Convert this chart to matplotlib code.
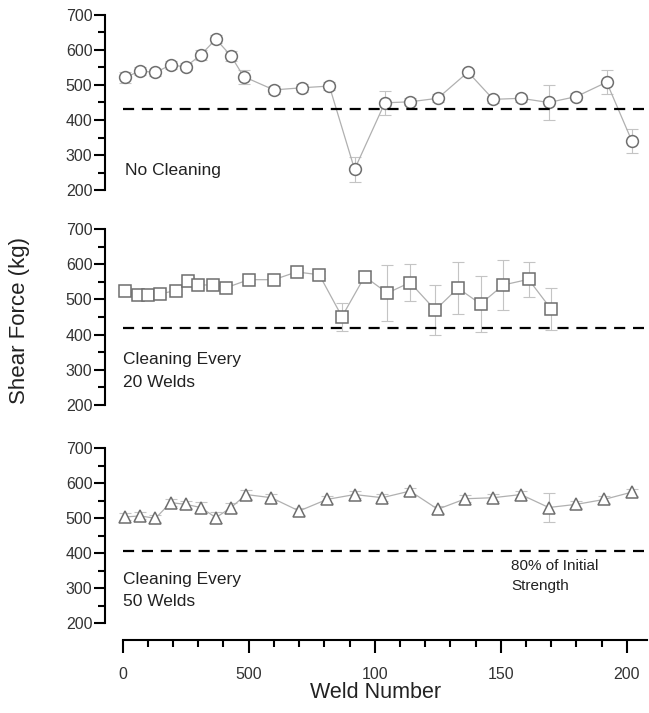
import matplotlib
matplotlib.use('Agg')
import matplotlib.pyplot as plt
from matplotlib.ticker import MultipleLocator

plt.rcParams['font.family'] = ['Liberation Sans', 'DejaVu Sans']

# No Cleaning
weld1 = [1, 7, 13, 19, 25, 31, 37, 43, 48, 60, 71, 82, 92, 104, 114, 125, 137, 147, 158, 169, 180, 192, 202]
force1 = [522, 540, 536, 557, 552, 586, 631, 583, 524, 486, 492, 497, 259, 449, 452, 462, 537, 459, 462, 450, 467, 508, 340]
err1 = [15, 12, 10, 12, 10, 15, 12, 15, 20, 12, 12, 12, 35, 35, 10, 12, 10, 10, 10, 50, 10, 35, 35]
limit1 = 430

# Cleaning every 20 welds
weld2 = [1, 6, 10, 15, 21, 26, 30, 36, 41, 50, 60, 69, 78, 87, 96, 105, 114, 124, 133, 142, 151, 161, 170]
force2 = [524, 513, 513, 516, 525, 551, 541, 541, 533, 556, 556, 578, 570, 451, 565, 518, 548, 470, 532, 487, 541, 557, 472]
err2 = [10, 10, 10, 10, 10, 12, 10, 10, 10, 10, 10, 10, 10, 40, 15, 80, 52, 72, 73, 80, 71, 50, 60]
limit2 = 420

# Cleaning every 50 welds
weld3 = [1, 7, 13, 19, 25, 31, 37, 43, 49, 59, 70, 81, 92, 103, 114, 125, 136, 147, 158, 169, 180, 191, 202]
force3 = [503, 506, 499, 544, 539, 530, 501, 530, 567, 558, 520, 553, 567, 558, 577, 525, 555, 558, 567, 530, 539, 553, 574]
err3 = [10, 10, 10, 10, 10, 15, 15, 12, 12, 10, 10, 10, 10, 10, 10, 10, 10, 10, 10, 42, 10, 10, 10]
limit3 = 405

xticks = [0, 50, 100, 150, 200]
xticklabels = ['0', '500', '100', '150', '200']
yticks = [200, 300, 400, 500, 600, 700]

fig = plt.figure(figsize=(6.49, 7.13), dpi=100)

H = 713.
left = 105 / 649.
width = 542 / 649.
rows = [(15, 190), (229, 405), (448, 623)]

panels = [
    (weld1, force1, err1, limit1, 'o'),
    (weld2, force2, err2, limit2, 's'),
    (weld3, force3, err3, limit3, '^'),
]

ax = []
for i, (w, f, e, lim, mk) in enumerate(panels):
    top, bot = rows[i]
    a = fig.add_axes([left, 1 - bot / H, width, (bot - top) / H])
    a.set_xlim(-7, 208)
    a.set_ylim(200, 700)

    a.errorbar(w, f, yerr=e, fmt='none', ecolor='#c4c4c4', elinewidth=0.8,
               capsize=4, capthick=0.8, clip_on=False, zorder=2)
    a.plot(w, f, color='#b0b0b0', lw=0.9, zorder=3, clip_on=False)
    a.plot(w, f, ls='none', marker=mk, ms=8.5, mfc='white',
           mec='#6e6e6e', mew=1.1, zorder=4, clip_on=False)
    a.hlines(lim, 0, 207, colors='k', linestyles=(0, (5, 3.5)), lw=1.6, zorder=5)

    for s in ['top', 'right', 'bottom']:
        a.spines[s].set_visible(False)
    a.spines['left'].set_linewidth(1.5)
    a.spines['left'].set_bounds(200, 700)

    a.set_yticks(yticks)
    a.yaxis.set_minor_locator(MultipleLocator(50))
    a.tick_params(axis='y', which='major', length=8, width=1.5, labelsize=11.5,
                  labelcolor='#333333', pad=1)
    a.tick_params(axis='y', which='minor', length=5, width=1.5)

    if i < 2:
        a.tick_params(axis='x', which='both', bottom=False, labelbottom=False)
    ax.append(a)

# panel texts
ax[0].text(1, 276, 'No Cleaning', fontsize=12.5, color='#222222', va='top')
ax[1].text(0, 350, 'Cleaning Every\n20 Welds', fontsize=12.5, color='#222222',
           va='top', linespacing=1.65)
ax[2].text(0, 345, 'Cleaning Every\n50 Welds', fontsize=12.5, color='#222222',
           va='top', linespacing=1.6)
ax[2].text(154, 383, '80% of Initial\nStrength', fontsize=11, color='#222222',
           va='top', linespacing=1.55)

# x axis on bottom panel
b = ax[2]
b.spines['bottom'].set_visible(True)
b.spines['bottom'].set_position(('outward', 12))
b.spines['bottom'].set_linewidth(1.5)
b.spines['bottom'].set_bounds(0, 208)
b.set_xticks(xticks)
b.set_xticklabels(xticklabels)
b.xaxis.set_minor_locator(MultipleLocator(10))
b.tick_params(axis='x', which='major', length=9, width=1.5, labelsize=11.5,
              labelcolor='#333333', pad=11)
b.tick_params(axis='x', which='minor', length=5, width=1.5)
b.set_xlabel('Weld Number', fontsize=15.5, labelpad=0, color='#222222')

fig.text(0.03, 0.55, 'Shear Force (kg)', rotation=90, fontsize=16,
         va='center', ha='center', color='#222222')

fig.savefig('out.png', dpi=100)
